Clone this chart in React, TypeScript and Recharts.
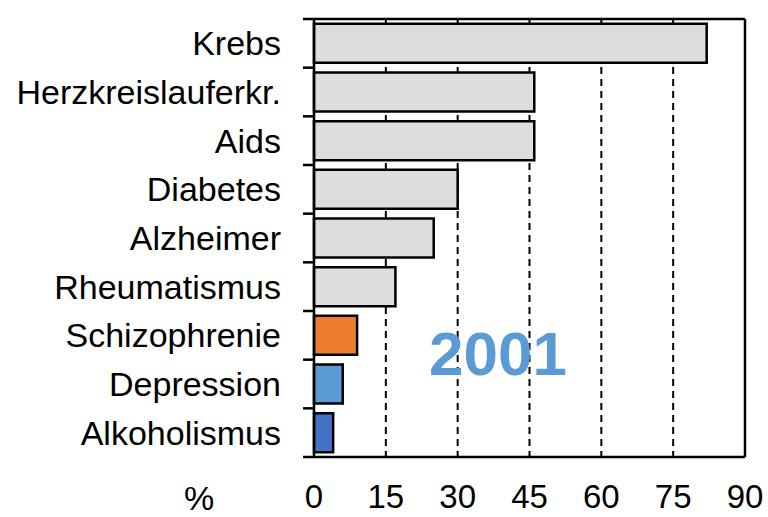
import React from 'react';
import { BarChart, Bar, Cell, XAxis, YAxis, CartesianGrid, ReferenceLine } from 'recharts';

const categories = [
  'Krebs',
  'Herzkreislauferkr.',
  'Aids',
  'Diabetes',
  'Alzheimer',
  'Rheumatismus',
  'Schizophrenie',
  'Depression',
  'Alkoholismus',
];
const percentages = [82, 46, 46, 30, 25, 17, 9, 6, 4];
const barColors = [
  '#DCDDDF', '#DCDDDF', '#DCDDDF', '#DCDDDF', '#DCDDDF', '#DCDDDF',
  '#ED7D31', '#5B9BD5', '#4472C4',
];
const xTicks = [0, 15, 30, 45, 60, 75, 90];
const yearLabel = '2001';
const unitLabel = '%';

const data = categories.map((name, i) => ({ name, value: percentages[i] }));

const W = 768;
const H = 517;
const TOP = 19;
const BOTTOM_AXIS = 60;
const PLOT_H = H - TOP - BOTTOM_AXIS;
const BAND = PLOT_H / categories.length;
const FONT = '"Liberation Sans", Arial, sans-serif';

const CategoryTick = (props: any) => {
  const { x, y, payload, index } = props;
  const last = index === categories.length - 1;
  return (
    <g>
      <line x1={x - 11} x2={x} y1={y - BAND / 2} y2={y - BAND / 2} stroke="#000" strokeWidth={2.5} />
      {last && (
        <line x1={x - 11} x2={x} y1={y + BAND / 2} y2={y + BAND / 2} stroke="#000" strokeWidth={2.5} />
      )}
      <text x={x - 33} y={y} dy={12} textAnchor="end" fontSize={34} fontFamily={FONT} fill="#000">
        {payload.value}
      </text>
    </g>
  );
};

const EmptyTick = () => <g />;

export default function App() {
  return (
    <div style={{ position: 'absolute', left: 0, top: 0, width: W, height: H, background: '#fff' }}>
      <BarChart
        width={W}
        height={H}
        data={data}
        layout="vertical"
        margin={{ top: 0, right: 23, bottom: 0, left: 0 }}
        barCategoryGap="10%"
      >
        <CartesianGrid
          xAxisId="bottom"
          horizontal={false}
          stroke="#000"
          strokeWidth={2}
          strokeDasharray="7 5"
        />
        <XAxis
          xAxisId="bottom"
          type="number"
          domain={[0, 90]}
          ticks={xTicks}
          height={BOTTOM_AXIS}
          axisLine={{ stroke: '#000', strokeWidth: 2.5 }}
          tickLine={false}
          tickMargin={22}
          tick={{ fontSize: 33, fontFamily: FONT, fill: '#000' }}
        />
        <XAxis
          xAxisId="top"
          orientation="top"
          type="number"
          domain={[0, 90]}
          ticks={xTicks}
          height={TOP}
          axisLine={{ stroke: '#000', strokeWidth: 2.5 }}
          tickLine={{ stroke: '#000', strokeWidth: 2.5 }}
          tickSize={11}
          tick={EmptyTick}
        />
        <YAxis
          type="category"
          dataKey="name"
          width={314}
          axisLine={{ stroke: '#000', strokeWidth: 2.5 }}
          tickLine={false}
          tickSize={0}
          tickMargin={0}
          tick={CategoryTick}
          interval={0}
        />
        <ReferenceLine xAxisId="bottom" x={90} stroke="#000" strokeWidth={2.5} />
        <Bar
          xAxisId="bottom"
          dataKey="value"
          stroke="#000"
          strokeWidth={2.5}
          isAnimationActive={false}
        >
          {data.map((d, i) => (
            <Cell key={d.name} fill={barColors[i]} />
          ))}
        </Bar>
      </BarChart>
      <svg
        width={W}
        height={H}
        style={{ position: 'absolute', left: 0, top: 0, pointerEvents: 'none' }}
      >
        <text x={199} y={510} textAnchor="middle" fontSize={34} fontFamily={FONT} fill="#000">
          {unitLabel}
        </text>
        <text
          x={498}
          y={375}
          textAnchor="middle"
          fontSize={62}
          fontWeight="bold"
          fontFamily={FONT}
          fill="#5B9BD5"
        >
          {yearLabel}
        </text>
      </svg>
    </div>
  );
}
